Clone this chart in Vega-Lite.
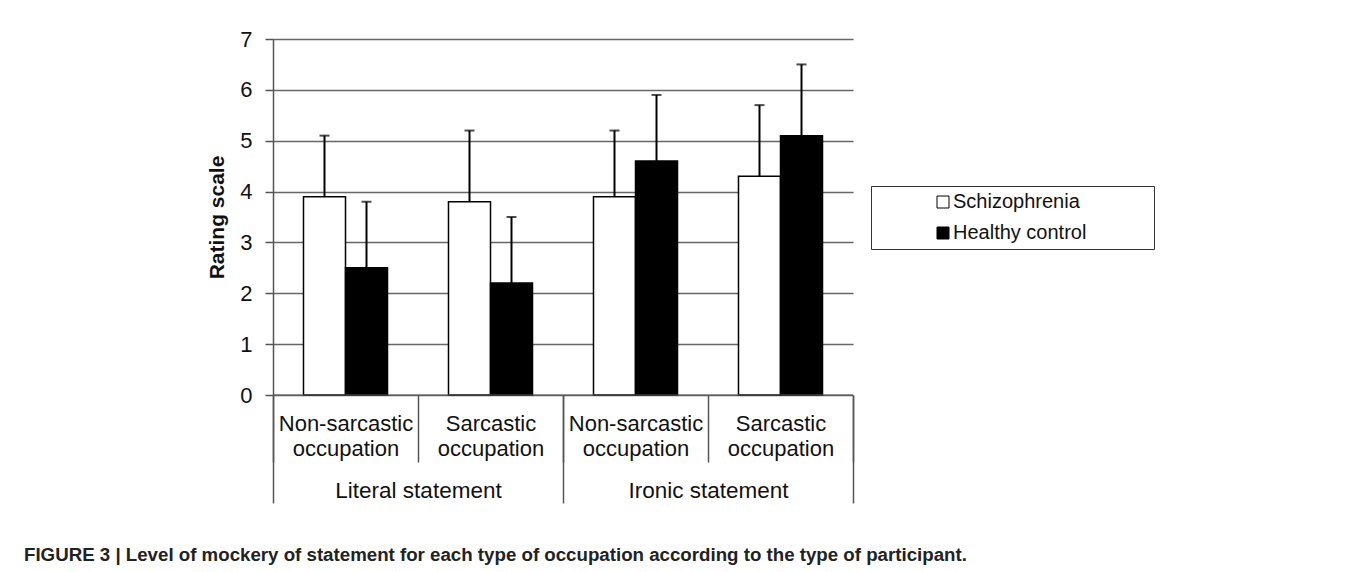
{
  "$schema": "https://vega.github.io/schema/vega-lite/v6.json",
  "width": 580,
  "height": 356,
  "autosize": "none",
  "padding": {"left": 273, "top": 39, "right": 503, "bottom": 177},
  "background": "white",
  "config": {"font": "Liberation Sans", "view": {"stroke": null}},
  "title": {
    "text": "FIGURE 3 | Level of mockery of statement for each type of occupation according to the type of participant.",
    "orient": "bottom",
    "anchor": "start",
    "frame": "group",
    "dx": -249,
    "offset": 42,
    "fontSize": 18.7,
    "fontWeight": "bold",
    "color": "#222",
    "font": "Liberation Sans"
  },
  "layer": [
    {
      "data": {
        "values": [
          {"cond": "Literal statement|Non-sarcastic occupation", "statement": "Literal statement", "occupation": "Non-sarcastic occupation", "participant": "Schizophrenia", "mean": 3.9, "upper": 5.1},
          {"cond": "Literal statement|Non-sarcastic occupation", "statement": "Literal statement", "occupation": "Non-sarcastic occupation", "participant": "Healthy control", "mean": 2.5, "upper": 3.8},
          {"cond": "Literal statement|Sarcastic occupation", "statement": "Literal statement", "occupation": "Sarcastic occupation", "participant": "Schizophrenia", "mean": 3.8, "upper": 5.2},
          {"cond": "Literal statement|Sarcastic occupation", "statement": "Literal statement", "occupation": "Sarcastic occupation", "participant": "Healthy control", "mean": 2.2, "upper": 3.5},
          {"cond": "Ironic statement|Non-sarcastic occupation", "statement": "Ironic statement", "occupation": "Non-sarcastic occupation", "participant": "Schizophrenia", "mean": 3.9, "upper": 5.2},
          {"cond": "Ironic statement|Non-sarcastic occupation", "statement": "Ironic statement", "occupation": "Non-sarcastic occupation", "participant": "Healthy control", "mean": 4.6, "upper": 5.9},
          {"cond": "Ironic statement|Sarcastic occupation", "statement": "Ironic statement", "occupation": "Sarcastic occupation", "participant": "Schizophrenia", "mean": 4.3, "upper": 5.7},
          {"cond": "Ironic statement|Sarcastic occupation", "statement": "Ironic statement", "occupation": "Sarcastic occupation", "participant": "Healthy control", "mean": 5.1, "upper": 6.5}
        ]
      },
      "encoding": {
        "x": {
          "field": "cond",
          "type": "nominal",
          "sort": ["Literal statement|Non-sarcastic occupation", "Literal statement|Sarcastic occupation", "Ironic statement|Non-sarcastic occupation", "Ironic statement|Sarcastic occupation"],
          "scale": {"paddingInner": 0, "paddingOuter": 0},
          "axis": {
            "orient": "bottom",
            "title": null,
            "tickBand": "extent",
            "tickSize": 67,
            "tickColor": "#555",
            "tickWidth": 1.5,
            "domain": false,
            "labelPadding": -49,
            "labelFontSize": 22,
            "labelColor": "#111",
            "labelLineHeight": 25,
            "labelAngle": 0,
            "labelExpr": "datum.value ? split(split(datum.value, '|')[1], ' ') : ''"
          }
        },
        "xOffset": {
          "field": "participant",
          "type": "nominal",
          "sort": ["Schizophrenia", "Healthy control"],
          "scale": {"paddingOuter": 0.726, "paddingInner": 0}
        }
      },
      "layer": [
        {
          "mark": {"type": "bar", "stroke": "black", "strokeWidth": 1.5},
          "encoding": {
            "y": {
              "field": "mean",
              "type": "quantitative",
              "scale": {"domain": [0, 7], "nice": false},
              "axis": {
                "title": "Rating scale",
                "titleFontSize": 21,
                "titleFontWeight": "bold",
                "titleColor": "#111",
                "titlePadding": 12,
                "values": [0, 1, 2, 3, 4, 5, 6, 7],
                "grid": true,
                "gridColor": "#666",
                "gridWidth": 1.5,
                "domainColor": "#555",
                "domainWidth": 1.5,
                "tickColor": "#555",
                "tickSize": 8,
                "tickWidth": 1.5,
                "labelFontSize": 22,
                "labelColor": "#111",
                "labelPadding": 13
              }
            },
            "fill": {
              "field": "participant",
              "type": "nominal",
              "scale": {"domain": ["Schizophrenia", "Healthy control"], "range": ["white", "black"]},
              "legend": {
                "orient": "none",
                "legendX": 598,
                "legendY": 147,
                "title": " ",
                "titleOrient": "right",
                "titlePadding": 62,
                "titleFontSize": 2,
                "strokeColor": "#333",
                "fillColor": "white",
                "padding": 6,
                "symbolType": "square",
                "symbolSize": 144,
                "symbolStrokeColor": "black",
                "symbolStrokeWidth": 1,
                "symbolOffset": 56,
                "labelOffset": 0,
                "labelFontSize": 20,
                "labelColor": "#111",
                "rowPadding": 11
              }
            }
          }
        },
        {
          "mark": {"type": "rule", "strokeWidth": 2, "color": "black"},
          "encoding": {
            "y": {"field": "mean", "type": "quantitative"},
            "y2": {"field": "upper"}
          }
        },
        {
          "mark": {"type": "tick", "orient": "horizontal", "size": 10, "thickness": 2, "color": "black"},
          "encoding": {
            "y": {"field": "upper", "type": "quantitative"}
          }
        }
      ]
    },
    {
      "data": {"values": [{"statement": "Literal statement"}, {"statement": "Ironic statement"}]},
      "mark": {"type": "tick", "orient": "horizontal", "size": 290, "thickness": 1.5, "color": "#555"},
      "encoding": {
        "x": {
          "field": "statement",
          "type": "nominal",
          "sort": ["Literal statement", "Ironic statement"],
          "scale": {"paddingInner": 0, "paddingOuter": 0},
          "axis": {
            "orient": "bottom",
            "title": null,
            "tickBand": "extent",
            "tickSize": 108,
            "tickColor": "#555",
            "tickWidth": 1.5,
            "domain": false,
            "labelPadding": -24,
            "labelFontSize": 22.5,
            "labelColor": "#111",
            "labelAngle": 0,
            "labelExpr": "datum.value ? datum.value : ''"
          }
        },
        "y": {"datum": 0, "type": "quantitative"}
      }
    }
  ],
  "resolve": {"scale": {"x": "independent"}, "axis": {"x": "independent"}}
}
